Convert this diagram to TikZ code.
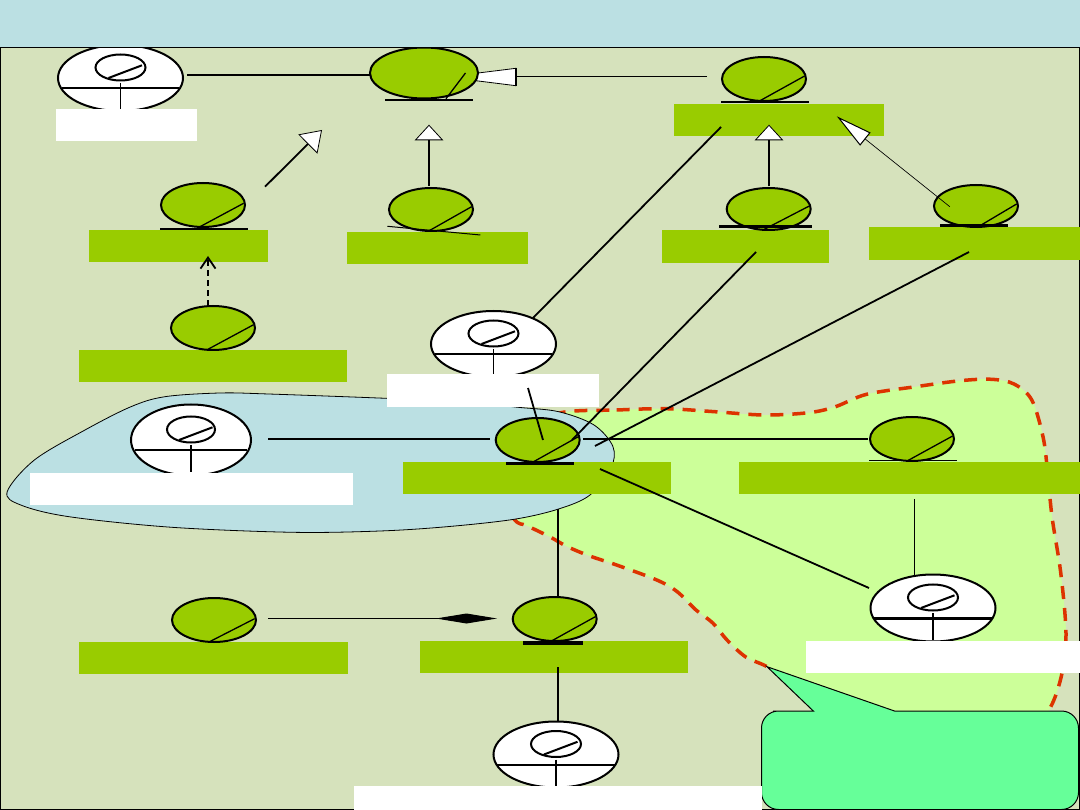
\documentclass[tikz,border=0pt]{standalone}
\usepackage{xcolor}
\usetikzlibrary{arrows.meta,shapes.geometric}

\definecolor{headbg}{RGB}{187,224,227}
\definecolor{panelbg}{RGB}{214,226,188}
\definecolor{leaf}{RGB}{153,204,0}
\definecolor{lime}{RGB}{204,255,153}
\definecolor{mint}{RGB}{102,255,153}
\definecolor{edge}{RGB}{221,51,0}

\begin{document}
\begin{tikzpicture}[
		x=1pt,
		y=-1pt,
		line cap=butt,
		line join=miter,
		classnode/.style={
			ellipse,
			draw=black,
			fill=leaf,
			line width=2pt,
			inner sep=0pt
		},
		actornode/.style={
			ellipse,
			draw=black,
			fill=white,
			line width=2pt,
			inner sep=0pt
		},
		tagbox/.style={
			rectangle,
			inner sep=0pt,
			outer sep=0pt
		},
		assoc/.style={
			draw=black,
			line width=1.8pt
		},
		thinassoc/.style={
			draw=black,
			line width=0.7pt
		},
		generalize/.style={
			-{Triangle[length=15.6pt,width=28.5pt,fill=white,line width=0.8pt]}
		}
		]
		
		% background
		\useasboundingbox (0,0) rectangle (1080,810);
		\draw[fill=panelbg,draw=black,line width=1pt] (0.5,47) rectangle (1079.5,809.5);
		
		% package regions
		\path[fill=lime,draw=edge,line width=3.5pt,dash pattern=on 13pt off 9pt]
			plot[smooth cycle,tension=0.55] coordinates {
				(560.8,412.7) (616.6,410) (665.7,408.7) (714.8,411.7) (764,415) (808.6,412.7)
				(835.4,406.7) (866.6,394.3) (915.7,386.7) (960.4,380.7) (991.6,379.3) (1014,384)
				(1031.8,400) (1043,436.7) (1047.4,470) (1052,516.7) (1060.8,573.3) (1066,633.3)
				(1062,673.3) (1050,708) (1030,726) (860,726) (818,706) (792,684) (767,666.7) (745.8,657)
				(727,640) (712.8,623) (696,610) (677,591.5) (656.8,580) (616.6,565) (589.8,556)
				(567.5,546.7) (549.6,536.7) (527,525.7) (514,519) (490,480) (520,430)
			};
		\path[fill=headbg,draw=black,line width=0.8pt]
			plot[smooth cycle,tension=0.55] coordinates {
				(7.2,491.7) (34.4,460) (85,430) (131,406.7) (165,396.7) (220,393) (268.6,394)
				(385.7,398.3) (465,402) (518,407.3) (558.6,411.7) (594,425) (613,446.7) (611,468)
				(590,495) (558.6,509) (514,519.3) (447,526.7) (380,531) (292.7,532.3) (172,527.3)
				(69,516.7) (20.7,505)
			};
		
		% note with its pointer
		\draw[fill=mint,draw=black,line width=1pt,rounded corners=17pt]
			(761.5,760) |- (790,711) [sharp corners] -- (813.3,711) -- (767,666.7) -- (894.5,711) -- (950,711)
			[rounded corners=17pt] -| (1078.5,809.5) -| cycle;
		
		% name boxes under the classes
		\foreach \nm/\px/\py/\bw/\bh in {
			lTR/779/120/210/32, lL/178.5/246/179/32, lM/437.5/248/181/32,
			lR/745.5/246.5/167/33, lFR/974.5/243.5/211/33, lLow/213/366/268/32,
			lHub/537/478/268/32, lEast/909.5/478/341/32, lS/554/657/268/32,
			lSW/213.5/658/269/32}
			\node[tagbox,fill=leaf,minimum width=\bw pt,minimum height=\bh pt] (\nm) at (\px,\py) {};
		
		% actors
		\foreach \nm/\px/\py/\rx/\ry in {
			aTL/120.5/78/62.5/33, aMid/493.5/344/62.5/33, aLeft/191/440/60/35.5,
			aRight/933/608/62.5/33.5, aBot/556/754.5/62.5/33}
		{
			\node[actornode,minimum width=2*\rx pt,minimum height=2*\ry pt] (\nm) at (\px,\py) {};
			\draw[line width=2pt] ([shift={(0,-10.5)}]\nm.center) ellipse [x radius=0.4*\rx, y radius=13];
			\draw[line width=2pt] ([shift={(-12,0)}]\nm.center) -- ([shift={(21.5,-12.7)}]\nm.center);
			\draw[line width=2.4pt] ([shift={(-0.94*\rx,10.3)}]\nm.center) -- ([shift={(0.94*\rx,10.3)}]\nm.center);
			\draw[line width=1.6pt] ([shift={(0,5)}]\nm.center) -- ([shift={(0,32)}]\nm.center);
		}
		
		% white boxes hide the lower part of the actors
		\foreach \nm/\px/\py/\bw/\bh in {
			wTL/126.5/125/141/32, wMid/493/390.5/212/33, wLeft/191.5/489/323/32,
			wRight/943/657/274/32, wBot/558/798/408/24}
			\node[tagbox,fill=white,minimum width=\bw pt,minimum height=\bh pt] (\nm) at (\px,\py) {};
		
		% top class and its long arrow, the head runs behind the class
		\coordinate (gTail) at (707,77);
		\coordinate (gHead) at (443,77);
		\draw[thinassoc,line width=1pt,-{Triangle[length=73pt,width=18pt,fill=white,line width=0.8pt]}]
			(gTail) -- (gHead);
		\draw[line width=2pt] (515.5,67.7) -- (515.5,85.7);
		\node[classnode,minimum width=108pt,minimum height=51pt] (cTop) at (424,73) {};
		\draw[line width=1.3pt] ([shift={(22,25.7)}]cTop.center) -- ([shift={(41.5,0)}]cTop.center);
		\draw[line width=2pt] ([shift={(-39,26.7)}]cTop.center) -- ([shift={(49,26.7)}]cTop.center);
		
		% other classes
		\foreach \nm/\px/\py/\bh/\cdx/\cey in {
			cTR/764/79/44/-3.6/-3, cL/203/205/44/-2.6/-1.7, cM/431/209.5/43/-2.3/-2.8,
			cR/768.7/209/42/-6.7/-3, cFR/976/206/42/1/-2, cLow/213/328/44/-5.4/-3.3,
			cHub/537.7/440/44/-3.7/-3.3, cEast/912/439/44/-4/-3, cS/554.7/619/44/-2.3/-2.3,
			cSW/214/620/44/-4/-1.3}
		{
			\node[classnode,minimum width=84pt,minimum height=\bh pt] (\nm) at (\px,\py) {};
			\draw[line width=1.3pt] ([shift={(\cdx,21.5)}]\nm.center) -- ([shift={(40.6,\cey)}]\nm.center);
		}
		
		% underlines of the class names
		\draw[line width=2pt] ([shift={(-43,22.7)}]cTR.center) -- ([shift={(45,22.7)}]cTR.center);
		\draw[line width=2pt] ([shift={(-43,24)}]cL.center) -- ([shift={(45,24)}]cL.center);
		\draw[line width=1pt] ([shift={(-43.6,16.8)}]cM.center) -- ([shift={(49.4,25.5)}]cM.center);
		\draw[line width=3pt] ([shift={(-49.7,17.3)}]cR.center) -- ([shift={(43.3,17.3)}]cR.center);
		\draw[line width=3pt] ([shift={(-36,20)}]cFR.center) -- ([shift={(32,20)}]cFR.center);
		\draw[line width=3pt] ([shift={(-31.7,24)}]cHub.center) -- ([shift={(36.3,24)}]cHub.center);
		\draw[line width=1pt] ([shift={(-43,22)}]cEast.center) -- ([shift={(45,22)}]cEast.center);
		\draw[line width=4pt] ([shift={(-31.7,23.7)}]cS.center) -- ([shift={(28.3,23.7)}]cS.center);
		
		% inheritance
		\coordinate (gFree) at (322,130);
		\draw[assoc,-{Triangle[length=20pt,width=27pt,fill=white,line width=0.8pt]}]
			([shift={(62,-18.3)}]cL.center) -- (gFree);
		\draw[assoc,generalize] ([shift={(-2,-23.8)}]cM.center) -- ([shift={(5,51.7)}]cTop.center);
		\draw[assoc,generalize] ([shift={(0.3,-23.3)}]cR.center) -- ([shift={(-10,4.7)}]lTR.center);
		\draw[thinassoc,-{Triangle[length=36.6pt,width=16.6pt,fill=white,line width=1pt]}]
			([shift={(-26.2,0.7)}]cFR.center) -- ([shift={(57.8,-3.7)}]lTR.center);
		\draw[assoc,dash pattern=on 6pt off 4pt,-{Straight Barb[length=11pt,width=15pt]}]
			([shift={(-5,-22)}]cLow.center) -- ([shift={(5,51)}]cL.center);
		
		% associations
		\draw[assoc] ([shift={(66.5,-3)}]aTL.center) -- ([shift={(-54,2)}]cTop.center);
		\draw[assoc] ([shift={(39.5,-26)}]aMid.center) -- ([shift={(-58,7)}]lTR.center);
		\draw[assoc] ([shift={(35,-2.5)}]wMid.center) -- ([shift={(5.3,0)}]cHub.center);
		\draw[assoc] ([shift={(77,-1)}]aLeft.center) -- ([shift={(-47.7,-1)}]cHub.center);
		\draw[assoc] ([shift={(34.3,0)}]cHub.center) -- ([shift={(10.5,5.5)}]lR.center);
		\draw[assoc] ([shift={(57.3,6)}]cHub.center) -- ([shift={(-5.5,8.5)}]lFR.center);
		\draw[assoc] ([shift={(45.3,-1)}]cHub.center) -- ([shift={(-44,0)}]cEast.center);
		\draw[assoc] ([shift={(63,-9)}]lHub.center) -- ([shift={(-64,-20)}]aRight.center);
		\draw[thinassoc,line width=1pt] ([shift={(5,21)}]lEast.center) -- ([shift={(-18.5,-33)}]aRight.center);
		\draw[assoc] ([shift={(21,31)}]lHub.center) -- ([shift={(3.3,-21)}]cS.center);
		\draw[assoc] ([shift={(4,10)}]lS.center) -- ([shift={(2,-32.5)}]aBot.center);
		
		% aggregation
		\draw[thinassoc,line width=1pt,-{Diamond[length=61pt,width=10pt,fill=black]}]
			([shift={(54,-1.5)}]cSW.center) -- ([shift={(-57.7,-0.5)}]cS.center);
		
		% title band
		\fill[headbg] (0,0) rectangle (1080,47);
		\draw[line width=1pt] (0,47.5) -- (1080,47.5);
\end{tikzpicture}
\end{document}
